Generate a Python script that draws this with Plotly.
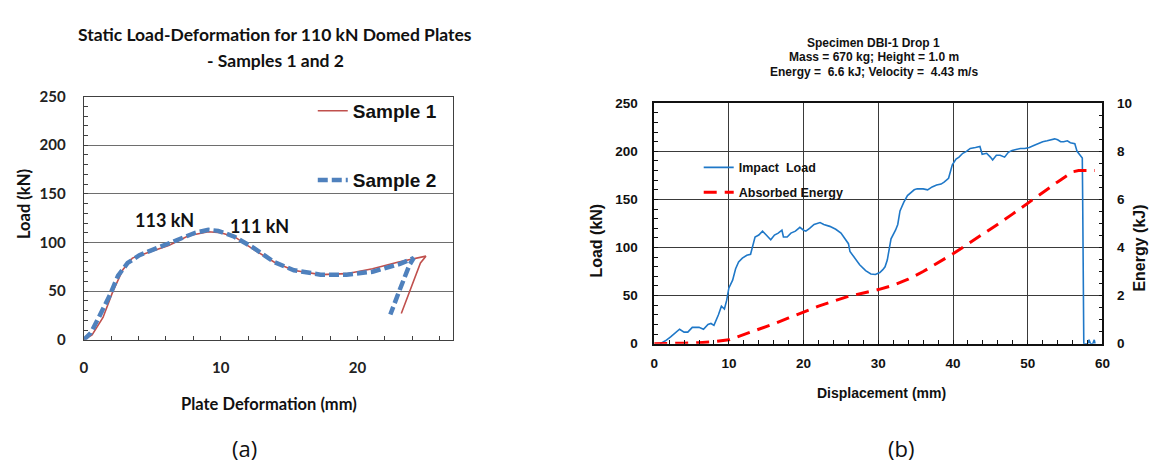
import plotly.graph_objects as go

W, H = 1156, 469

# ---------------- data: chart (a) ----------------
s1_def = [0.0, 0.6, 1.4, 2.1, 2.85, 3.55, 4.75, 6.2, 7.65, 9.1, 10.0, 11.0, 12.5, 13.9, 15.3, 17.3, 19.2, 21.1, 23.0, 25.0, 24.6, 23.9, 23.2]
s1_load = [0, 5, 23, 49, 72, 84, 90, 97, 107, 111, 110, 106, 92, 80, 71.5, 67, 68, 73, 80, 86, 79, 52, 27]

s2_def = [0.0, 0.5, 1.15, 1.9, 2.5, 3.2, 4.06, 5.26, 6.7, 8.13, 9.1, 9.82, 11.0, 12.46, 13.9, 15.35, 17.3, 19.2, 21.1, 23.1, 24.1, 23.8, 23.1, 22.4]
s2_load = [0, 7, 24.6, 46, 66, 79, 87, 93.5, 102, 110, 113, 112, 106, 94, 80, 71.5, 67, 67, 70, 78, 84, 77, 52, 26]

# ---------------- data: chart (b) ----------------
imp_disp = [0.8, 1.5, 2.2, 3.0, 3.4, 4.0, 4.5, 5.1, 6.0, 6.6, 7.2, 7.6, 8.0, 8.6, 9.0, 9.4, 9.7, 10.0, 10.5, 10.9,
            11.3, 11.8, 12.4, 12.9, 13.2, 13.5, 14.0, 14.5, 15.0, 15.6, 16.1, 16.6, 17.1, 17.3, 17.8, 18.3, 18.9, 19.5,
            20.0, 20.3, 20.8, 21.4, 22.2, 22.7, 23.5, 24.3, 25.0, 25.6, 26.0, 26.2, 26.8, 27.5, 28.3, 29.0, 29.6, 30.2,
            30.6, 30.9, 31.2, 31.7, 32.3, 32.6, 32.9, 33.4, 33.9, 34.4, 34.8, 35.2, 36.0, 36.6, 37.2, 37.8, 38.4, 38.8,
            39.4, 39.9, 40.4, 40.8, 41.3, 41.8, 42.3, 43.0, 43.6, 43.9, 44.5, 45.0, 45.3, 45.8, 46.3, 46.9, 47.4, 47.9,
            48.5, 49.0, 49.6, 50.2, 50.8, 51.4, 52.0, 52.6, 53.1, 53.6, 54.0, 54.4, 54.8, 55.3, 55.7, 56.3, 56.6, 56.9,
            57.3, 57.35, 57.4, 57.45, 57.5, 58.0, 58.2, 58.4, 58.7, 58.9, 59.0]
imp_load = [0, 3, 7, 13, 15, 12, 12, 17, 17, 15, 20, 21, 19, 30, 39, 36, 45, 58, 66, 78,
            85, 89, 92, 93, 103, 111, 113, 117, 113, 108, 113, 115, 118, 111, 111, 115, 117, 121,
            118, 117, 120, 124, 126, 124, 122, 119, 115, 108, 104, 96, 89, 82, 76, 72.5, 72, 74,
            77, 80, 87, 109, 118, 124, 138, 147, 154, 157, 160, 161, 161, 160, 163, 165, 166, 168,
            172, 186, 192, 194, 198, 200, 203, 204, 205, 197, 198, 194, 191, 196, 196, 194, 199, 201,
            202, 203, 203, 204, 206, 208, 210, 211, 212, 213, 212, 210, 210, 211, 209, 208, 200, 197,
            193, 150, 50, 5, 0, 0, 4, 0, 0, 4, 0]

en_disp = [0, 2, 4, 6, 8, 10, 12, 14, 16, 18, 20, 22, 24, 26, 28, 30, 32, 34, 36, 38, 40, 42, 44, 46, 48, 50, 52, 54, 56, 56.8, 59]
en_kj = [0, 0, 0.02, 0.04, 0.08, 0.16, 0.37, 0.6, 0.82, 1.07, 1.32, 1.56, 1.77, 1.97, 2.11, 2.25, 2.43, 2.68, 3.0, 3.37,
         3.74, 4.15, 4.55, 4.97, 5.4, 5.85, 6.3, 6.73, 7.15, 7.2, 7.2]


def px(x):
    return x / W


def py(y):
    return 1 - y / H


CAL = "Lato"
ARI = "Liberation Sans, Arial"

fig = go.Figure()

fig.add_trace(go.Scatter(x=s1_def, y=s1_load, mode="lines", name="Sample 1", showlegend=True,
                         line=dict(color="#C0504D", width=1.6), xaxis="x", yaxis="y", legend="legend5"))
fig.add_trace(go.Scatter(x=s2_def, y=s2_load, mode="lines", name="Sample 2", showlegend=True,
                         line=dict(color="#4F81BD", width=4.5, dash="10px,4px"), xaxis="x", yaxis="y", legend="legend2"))

fig.add_trace(go.Scatter(x=imp_disp, y=imp_load, mode="lines", name="Impact\u00a0 Load", showlegend=True,
                         line=dict(color="#1F78C8", width=1.6), xaxis="x2", yaxis="y2", legend="legend3"))
fig.add_trace(go.Scatter(x=en_disp, y=en_kj, mode="lines", name="Absorbed Energy", showlegend=True,
                         line=dict(color="#FF0000", width=3, dash="13px,8px"), xaxis="x2", yaxis="y3", legend="legend4"))

tick_a = dict(family=CAL, size=15, color="#222", weight="bold")
tick_b = dict(family=ARI, size=13.5, color="#111", weight="bold")

leg_a = dict(family=ARI, size=19, color="#111", weight="bold")
leg_b = dict(family=ARI, size=12.5, color="#111", weight="bold")

fig.update_layout(
    width=W, height=H, margin=dict(l=0, r=0, t=0, b=0),
    paper_bgcolor="white", plot_bgcolor="white", showlegend=True,
    xaxis=dict(domain=[px(80.7), px(454)], range=[0, 27], anchor="y",
               tickvals=[0, 10, 20], ticks="inside", ticklen=4, tickcolor="#404040",
               minor=dict(dtick=2, tick0=0, ticks="inside", ticklen=4, tickcolor="#404040", showgrid=False),
               showgrid=False, zeroline=False, showline=True, mirror=True, linecolor="#404040", linewidth=1.3,
               tickfont=tick_a, ticklabelstandoff=14),
    yaxis=dict(domain=[py(343), py(90)], range=[0, 250], anchor="x",
               dtick=50, ticks="inside", ticklen=4, tickcolor="#404040",
               minor=dict(dtick=10, ticks="inside", ticklen=4, tickcolor="#404040", showgrid=False),
               showgrid=True, gridcolor="#6e6e6e", gridwidth=1, zeroline=False,
               showline=True, mirror=True, linecolor="#404040", linewidth=1.3,
               tickfont=tick_a, ticklabelstandoff=14),
    xaxis2=dict(domain=[px(657), px(1110)], range=[0, 60], anchor="y2",
                dtick=10, ticks="inside", ticklen=4, tickcolor="#111",
                minor=dict(dtick=2, ticks="inside", ticklen=4, tickcolor="#111", showgrid=False),
                showgrid=True, gridcolor="#3a3a3a", gridwidth=1, zeroline=False,
                showline=True, mirror=True, linecolor="#111", linewidth=1.5,
                tickfont=tick_b, ticklabelstandoff=6),
    yaxis2=dict(domain=[py(347), py(97)], range=[0, 250], anchor="x2",
                dtick=50, ticks="inside", ticklen=4, tickcolor="#111",
                minor=dict(dtick=10, ticks="inside", ticklen=4, tickcolor="#111", showgrid=False),
                showgrid=True, gridcolor="#3a3a3a", gridwidth=1, zeroline=False,
                showline=True, mirror=True, linecolor="#111", linewidth=1.5,
                tickfont=tick_b, ticklabelstandoff=12),
    yaxis3=dict(range=[0, 10], overlaying="y2", side="right", anchor="x2",
                dtick=2, ticks="inside", ticklen=4, tickcolor="#111",
                minor=dict(dtick=0.5, ticks="inside", ticklen=4, tickcolor="#111", showgrid=False),
                showgrid=False, zeroline=False, showline=True, linecolor="#111", linewidth=1.5,
                tickfont=tick_b, ticklabelstandoff=10),
    legend5=dict(x=px(312), y=py(105), xanchor="left", yanchor="middle", bgcolor="rgba(0,0,0,0)",
                 font=leg_a, visible=True),
    legend2=dict(x=px(312), y=py(177), xanchor="left", yanchor="middle", bgcolor="rgba(0,0,0,0)",
                 font=leg_a),
    legend3=dict(x=px(702), y=py(164), xanchor="left", yanchor="middle", bgcolor="rgba(0,0,0,0)",
                 font=leg_b),
    legend4=dict(x=px(702), y=py(190), xanchor="left", yanchor="middle", bgcolor="rgba(0,0,0,0)",
                 font=leg_b),
)


def ann(text, x, y, size, family, bold=True, angle=0, color="#111"):
    fig.add_annotation(text=text, x=px(x), y=py(y), xref="paper", yref="paper",
                       showarrow=False, xanchor="center", yanchor="middle", textangle=angle,
                       font=dict(family=family, size=size, color=color, weight="bold" if bold else "normal"))


# chart (a) texts
ann("Static Load-Deformation for 110 kN Domed Plates", 274, 25, 17.5, CAL)
ann("- Samples 1 and 2", 274, 53, 17.5, CAL)
ann("Load (kN)", 20, 202, 16.5, CAL, angle=-90)
ann("Plate Deformation (mm)", 268, 410, 16.5, CAL)
ann("113 kN", 162, 218, 18, CAL)
ann("111 kN", 258, 225, 18, CAL)
ann("(a)", 243, 455, 22, "Open Sans", bold=False)

# chart (b) texts
ann("Specimen DBI-1 Drop 1", 879, 34, 12, ARI)
ann("Mass = 670 kg; Height = 1.0 m", 879, 49, 12, ARI)
ann("Energy =\u00a0 6.6 kJ; Velocity =\u00a0 4.43 m/s", 879, 64, 12, ARI)
ann("Load (kN)", 599, 240, 16, ARI, angle=-90)
ann("Energy (kJ)", 1147, 248, 16, ARI, angle=-90)
ann("Displacement (mm)", 887, 398, 14, ARI)
ann("(b)", 906, 455, 22, "Open Sans", bold=False)

fig.write_html("out.html")
